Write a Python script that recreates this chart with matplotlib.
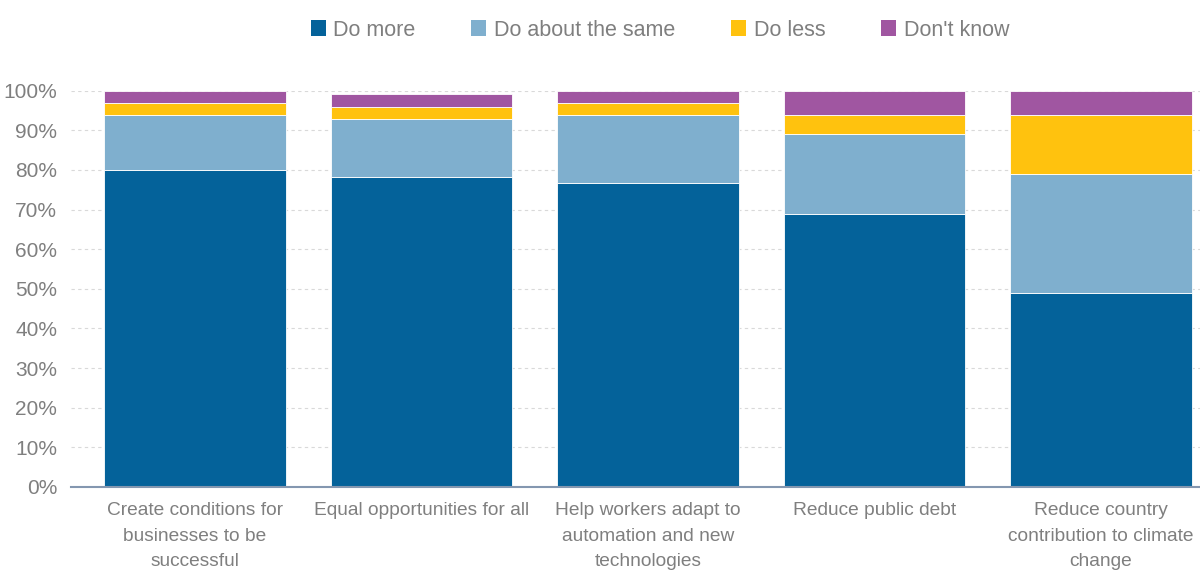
import matplotlib
matplotlib.use("Agg")
import matplotlib.pyplot as plt
import numpy as np
from matplotlib.patches import Patch

categories = [
    "Create conditions for\nbusinesses to be\nsuccessful",
    "Equal opportunities for all",
    "Help workers adapt to\nautomation and new\ntechnologies",
    "Reduce public debt",
    "Reduce country\ncontribution to climate\nchange",
]
series_names = ["Do more", "Do about the same", "Do less", "Don't know"]
do_more = [80.1, 78.2, 76.7, 69.0, 49.0]
do_same = [13.7, 14.6, 17.1, 20.0, 30.1]
do_less = [3.0, 3.0, 3.0, 4.9, 14.8]
dont_know = [3.2, 3.4, 3.2, 6.1, 6.1]
colors = ["#04629A", "#7FAFCE", "#FFC20E", "#A056A1"]

plt.rcParams['font.family'] = ['Liberation Sans', 'DejaVu Sans']
text_color = "#7F7F7F"

fig = plt.figure(figsize=(12, 5.72), dpi=100)
ax = fig.add_axes([71/1200, 85/572, (1200-71)/1200, (487-90.7)/572])

x = np.arange(len(categories))
bottom = np.zeros(len(categories))
for vals, col, name in zip([do_more, do_same, do_less, dont_know], colors, series_names):
    ax.bar(x, vals, width=0.8, bottom=bottom, color=col, edgecolor="white",
           linewidth=0.6, label=name, zorder=3)
    bottom += np.array(vals)

ax.set_ylim(0, 100)
ax.set_xlim(-0.547, 4.437)
ax.set_yticks(np.arange(0, 101, 10))
ax.set_yticklabels([f"{v}%" for v in range(0, 101, 10)], fontsize=15, color=text_color)
ax.set_xticks(x)
ax.set_xticklabels(categories, fontsize=13.8, color=text_color, linespacing=1.65, va="top")
ax.tick_params(axis="both", length=0)
ax.tick_params(axis="x", pad=11)
ax.tick_params(axis="y", pad=10)
ax.yaxis.grid(True, linestyle=(0, (3, 3)), color="#D9D9D9", linewidth=0.8, zorder=0)
for s in ["top", "right", "left"]:
    ax.spines[s].set_visible(False)
ax.spines["bottom"].set_color("#8497B0")
ax.spines["bottom"].set_linewidth(1.5)
ax.spines["bottom"].set_zorder(4)

handles = [Patch(facecolor=c, edgecolor="none") for c in colors]
fig.legend(handles, series_names, loc="center", bbox_to_anchor=(660/1200, 1 - 30/572),
           ncol=4, frameon=False, fontsize=15.5, handlelength=0.7, handleheight=0.75,
           handletextpad=0.35, columnspacing=2.6, labelcolor=text_color)

fig.savefig("out.png", dpi=100)
